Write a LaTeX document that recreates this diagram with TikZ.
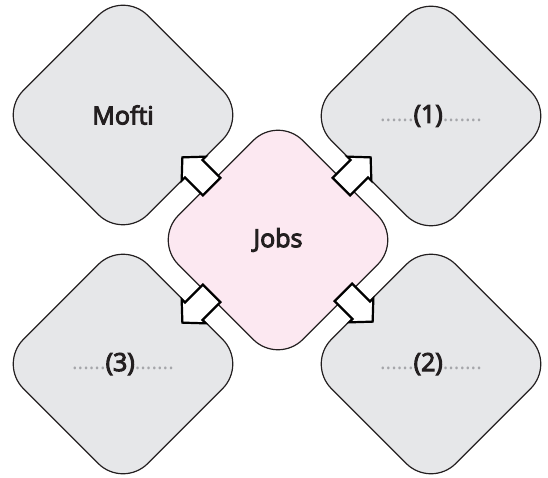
\documentclass[tikz,border=0pt]{standalone}
\usepackage{fontspec}
\usetikzlibrary{shapes.geometric,calc}
\newfontfamily\lblfont{Open Sans}[FakeBold=4]
\newfontfamily\dotfont{Open Sans}
\definecolor{boxgray}{RGB}{230,231,233}
\definecolor{boxpink}{RGB}{252,232,241}
\definecolor{edgecol}{RGB}{35,31,32}
\definecolor{dotgray}{RGB}{165,166,170}
\definecolor{txtcol}{RGB}{35,31,32}
\newcommand{\dotsL}{{\dotfont\fontsize{21}{21}\selectfont\color{dotgray}\raisebox{1.8pt}{......}}}
\newcommand{\dotsR}{{\dotfont\fontsize{21}{21}\selectfont\color{dotgray}\raisebox{1.8pt}{.......}}}
\tikzset{
  dia/.style={diamond, aspect=1, draw=edgecol, line width=1.2pt, rounded corners=35pt,
    minimum width=249pt, minimum height=249pt, inner sep=0pt,
    font=\lblfont\fontsize{25}{29}\selectfont, text=txtcol},
  greydia/.style={dia, fill=boxgray},
  pinkdia/.style={dia, fill=boxpink},
  blockarrow/.style={draw=black, fill=white, line width=2.2pt, line join=miter}
}
\begin{document}
\begin{tikzpicture}[x=1pt,y=1pt]
\useasboundingbox (0,0) rectangle (548,477);
\node[greydia] (mofti) at (123,362) {Mofti};
\node[greydia] (one) at (431,361) {\dotsL(1)\dotsR};
\node[greydia] (three) at (123,113) {\dotsL(3)\dotsR};
\node[greydia] (two) at (431,113) {\dotsL(2)\dotsR};
\node[pinkdia] (jobs) at (278,237) {Jobs};
% block arrows from Jobs to each outer box
\begin{scope}[shift={($(jobs.center)+(-81,68)$)}, rotate=135]
  \draw[blockarrow] (-20.7,-12.4) -- (4.7,-12.4) -- (4.7,-17) -- (20.7,0) -- (4.7,17) -- (4.7,12.4) -- (-20.7,12.4) -- cycle;
\end{scope}
\begin{scope}[shift={($(jobs.center)+(78,68)$)}, rotate=45]
  \draw[blockarrow] (-20.7,-12.4) -- (4.7,-12.4) -- (4.7,-17) -- (20.7,0) -- (4.7,17) -- (4.7,12.4) -- (-20.7,12.4) -- cycle;
\end{scope}
\begin{scope}[shift={($(jobs.center)+(-81,-68)$)}, rotate=225]
  \draw[blockarrow] (-20.7,-12.4) -- (4.7,-12.4) -- (4.7,-17) -- (20.7,0) -- (4.7,17) -- (4.7,12.4) -- (-20.7,12.4) -- cycle;
\end{scope}
\begin{scope}[shift={($(jobs.center)+(80,-67)$)}, rotate=315]
  \draw[blockarrow] (-20.7,-12.4) -- (4.7,-12.4) -- (4.7,-17) -- (20.7,0) -- (4.7,17) -- (4.7,12.4) -- (-20.7,12.4) -- cycle;
\end{scope}
\end{tikzpicture}
\end{document}
